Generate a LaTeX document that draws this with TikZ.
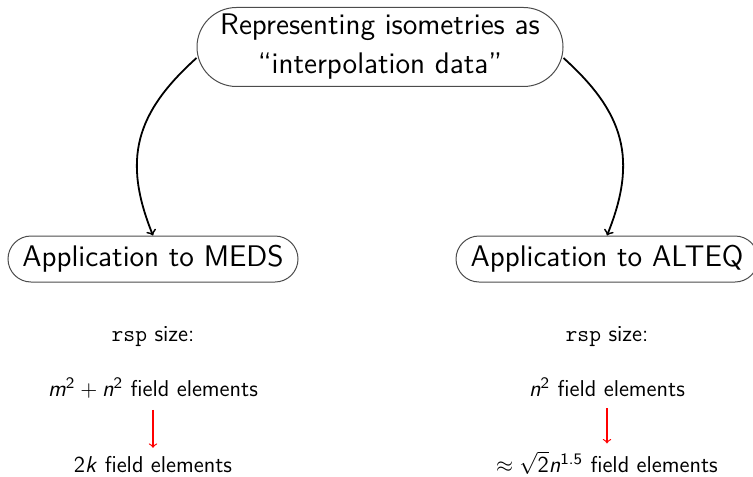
\documentclass[tikz,border=0pt]{standalone}
\usepackage{amsmath}
\usetikzlibrary{arrows}
% sans-serif slanted letters for the formulas
\newcommand\sv[1]{\textsf{\slshape #1}}
\newcommand\sd[1]{\textsf{#1}}
\begin{document}
\begin{tikzpicture}[x=1pt,y=1pt,
  txt/.style={anchor=base, font=\sffamily\fontsize{11.45}{14}\selectfont},
  pill/.style={draw=black!70, line width=0.5pt, rounded corners=#1,
    font=\sffamily\fontsize{14.9}{19.5}\selectfont, inner sep=0pt},
  link/.style={->, line width=0.9pt},
  shrink/.style={->, draw=red, line width=0.6pt, shorten <=2.5pt, shorten >=0.5pt}]
\useasboundingbox (0,0) rectangle (376.5,-238);

% boxes
\node[pill=19.75pt, minimum width=183pt, minimum height=39.5pt, align=center]
  (top) at (190,-23.5) {Representing isometries as\\“interpolation data”};
\node[pill=11.5pt, minimum width=145pt, minimum height=23pt]
  (meds) at (76.5,-129.5) {Application to MEDS};
\node[pill=11.5pt, minimum width=151pt, minimum height=23pt]
  (alteq) at (303.5,-129.5) {Application to ALTEQ};

% curved links
\draw[link] ([yshift=-5.5pt]top.west) to[out=-138,in=112,looseness=1.15] (meds.north);
\draw[link] ([yshift=-5.5pt]top.east) to[out=-42,in=68,looseness=1.15] (alteq.north);

% MEDS column
\node[txt] (rspL) at (76.5,-170.5) {\texttt{rsp} size:};
\node[txt] (fromL) at (76.5,-198) {$\sv{m}^{\sd{2}} + \sv{n}^{\sd{2}}$ field elements};
\node[txt] (toL) at (76.5,-236) {\sd{2}\sv{k} field elements};
\draw[shrink] (fromL) -- (toL);

% ALTEQ column
\node[txt] (rspR) at (303.5,-170.5) {\texttt{rsp} size:};
\node[txt] (fromR) at (303.5,-198) {$\sv{n}^{\sd{2}}$ field elements};
\node[txt] (toR) at (303.5,-236) {$\approx \sqrt{\sd{2}}\sv{n}^{\sd{1.5}}$ field elements};
\draw[shrink] (fromR) -- (toR);
\end{tikzpicture}
\end{document}
